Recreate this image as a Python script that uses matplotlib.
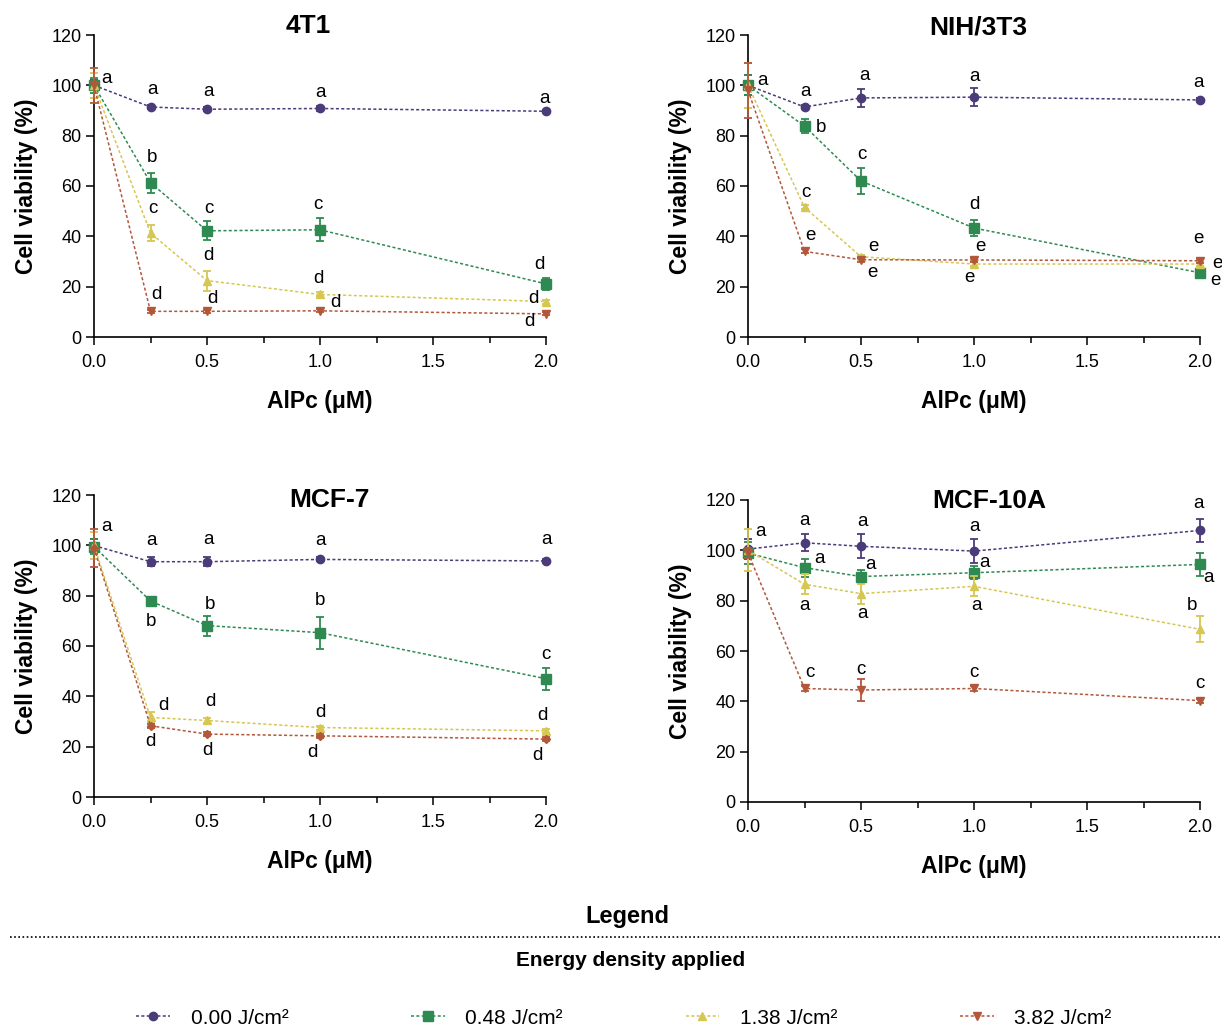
import numpy as np
import matplotlib
matplotlib.use("Agg")
import matplotlib.pyplot as plt
from matplotlib.lines import Line2D
from matplotlib.ticker import MultipleLocator

plt.rcParams['font.family'] = ['Liberation Sans', 'DejaVu Sans']

# AlPc concentration (uM)
conc = [0.0, 0.25, 0.5, 1.0, 2.0]
doses = ["0.00 J/cm²", "0.48 J/cm²", "1.38 J/cm²", "3.82 J/cm²"]

# 4T1
t1_means = [[100, 91.4, 90.5, 90.8, 89.7],
            [100, 61.3, 42.2, 42.6, 21.1],
            [100, 41.3, 22.4, 16.9, 14.1],
            [100, 10.2, 10.2, 10.4, 9.2]]
t1_errs = [[2, 0.8, 0.8, 0.8, 0.5],
           [3, 4.0, 3.8, 4.6, 2.5],
           [5, 3.2, 4.0, 0.8, 0.8],
           [7, 0.6, 0.6, 0.6, 0.6]]
t1_letters = [["a", "a", "a", "a", "a"],
              ["", "b", "c", "c", "d"],
              ["", "c", "d", "d", "d"],
              ["", "d", "d", "d", "d"]]

# NIH/3T3
nih_means = [[100, 91.4, 95.0, 95.3, 94.2],
             [100, 83.8, 62.0, 43.3, 25.5],
             [100, 51.5, 31.9, 29.0, 29.0],
             [98, 34.0, 30.7, 30.6, 30.3]]
nih_errs = [[4, 0.8, 3.5, 3.6, 0.8],
            [4, 2.9, 5.3, 3.3, 0.8],
            [9, 0.8, 0.8, 0.8, 0.8],
            [11, 0.8, 0.8, 0.8, 0.8]]
nih_letters = [["a", "a", "a", "a", "a"],
               ["", "b", "c", "d", "e"],
               ["", "c", "e", "e", "e"],
               ["", "e", "e", "e", "e"]]

# MCF-7
mcf7_means = [[99.9, 93.5, 93.5, 94.4, 93.8],
              [99.5, 77.9, 68.1, 65.3, 47.0],
              [100, 31.6, 30.4, 27.6, 26.3],
              [99, 28.3, 25.0, 24.3, 23.0]]
mcf7_errs = [[2.5, 1.7, 1.8, 0.8, 0.8],
             [3, 1.5, 4.0, 6.3, 4.3],
             [5.4, 2.0, 0.8, 0.8, 0.8],
             [7.5, 0.8, 0.8, 0.8, 0.8]]
mcf7_letters = [["a", "a", "a", "a", "a"],
                ["", "b", "b", "b", "c"],
                ["", "d", "d", "d", "d"],
                ["", "d", "d", "d", "d"]]

# MCF-10A
mcf10_means = [[100.5, 103.0, 101.6, 99.7, 107.9],
               [98.9, 93.1, 89.6, 91.1, 94.4],
               [100, 86.5, 82.8, 85.7, 68.6],
               [99, 45.1, 44.5, 45.1, 40.3]]
mcf10_errs = [[4, 3.4, 4.7, 4.8, 4.4],
              [4.5, 3.6, 2.6, 2.6, 4.5],
              [8.3, 4.0, 4.0, 4.0, 5.2],
              [2, 0.8, 4.4, 0.8, 0.8]]
mcf10_letters = [["a", "a", "a", "a", "a"],
                 ["", "a", "a", "a", "a"],
                 ["", "a", "a", "a", "b"],
                 ["", "c", "c", "c", "c"]]

# letter placement, pixel offsets from the point
t1_off = [[(13, 7), (2, 17), (2, 18), (0, 16), (-2, 13)],
          [None, (1, 25), (2, 22), (-2, 25), (-7, 19)],
          [None, (2, 25), (1, 25), (-2, 16), (-13, 3)],
          [None, (6, 17), (5, 13), (15, 8), (-17, -8)]]
nih_off = [[(14, 5), (1, 15), (3, 22), (1, 21), (-2, 17)],
           [None, (16, -1), (1, 26), (0, 24), (15, -8)],
           [None, (1, 15), (12, 10), (-5, -13), (17, 1)],
           [None, (6, 16), (11, -13), (6, 13), (-2, 22)]]
mcf7_off = [[(12, 19), (1, 21), (1, 22), (0, 19), (0, 21)],
            [None, (0, -21), (3, 21), (0, 32), (0, 24)],
            [None, (13, 12), (3, 19), (0, 15), (-4, 15)],
            [None, (0, -16), (0, -16), (-8, -17), (-9, -16)]]
mcf10_off = [[(12, 18), (0, 22), (1, 25), (1, 25), (-2, 27)],
             [None, (15, 9), (10, 12), (11, 10), (8, -13)],
             [None, (0, -21), (1, -20), (3, -19), (-8, 24)],
             [None, (5, 16), (0, 21), (0, 16), (0, 17)]]

colors = ["#4b3b7a", "#2f8a52", "#d6c652", "#b3573a"]
markers = ["o", "s", "^", "v"]
msizes = [6, 7.5, 6, 6]

panels = [
    ("4T1", t1_means, t1_errs, t1_letters, t1_off,
     [94, 337], (0.473, 1.03), "v"),
    ("NIH/3T3", nih_means, nih_errs, nih_letters, nih_off,
     [748, 337], (0.509, 1.026), "v"),
    ("MCF-7", mcf7_means, mcf7_errs, mcf7_letters, mcf7_off,
     [94, 797], (0.52, 0.983), "D"),
    ("MCF-10A", mcf10_means, mcf10_errs, mcf10_letters, mcf10_off,
     [748, 802], (0.533, 0.997), "v"),
]

W, H = 1222, 1032
AW, AH = 452, 302
fig = plt.figure(figsize=(W / 100, H / 100), dpi=100)

handles = None
for title, means, errs, letters, offs, (x0, y0), tpos, red_marker in panels:
    ax = fig.add_axes([x0 / W, 1 - y0 / H, AW / W, AH / H])
    lines = []
    for i in range(4):
        mk = markers[i] if i < 3 else red_marker
        ms = msizes[i] if mk != "D" else 4.5
        cont = ax.errorbar(conc, means[i], yerr=errs[i], color=colors[i],
                           marker=mk, ms=ms, ls=(0, (2, 1.5)), lw=1.1,
                           capsize=3, elinewidth=1.3, capthick=1.3,
                           clip_on=False, zorder=3 + i)
        lines.append(cont[0])
        for j in range(5):
            if letters[i][j]:
                dx, dy = offs[i][j]
                ax.annotate(letters[i][j], (conc[j], means[i][j]),
                            xytext=(dx, dy), textcoords="offset pixels",
                            ha="center", va="center", fontsize=13.5,
                            annotation_clip=False, zorder=10)
    if handles is None:
        handles = lines

    ax.set_xlim(0, 2.0)
    ax.set_ylim(0, 120)
    ax.set_xticks([0, 0.5, 1.0, 1.5, 2.0])
    ax.set_xticklabels(["0.0", "0.5", "1.0", "1.5", "2.0"])
    ax.xaxis.set_minor_locator(MultipleLocator(0.25))
    ax.set_yticks(range(0, 121, 20))
    ax.tick_params(axis="both", which="major", labelsize=13, length=6,
                   width=1.1, direction="out")
    ax.tick_params(axis="x", which="major", pad=6)
    ax.tick_params(axis="y", which="major", pad=3)
    ax.tick_params(axis="x", which="minor", length=4, width=1.1)
    for s in ["top", "right"]:
        ax.spines[s].set_visible(False)
    for s in ["left", "bottom"]:
        ax.spines[s].set_linewidth(1.2)

    ax.set_xlabel("AlPc (μM)", fontsize=16.5, fontweight="bold")
    ax.xaxis.set_label_coords(0.5, -0.175)
    ax.set_ylabel("Cell viability (%)", fontsize=16.5, fontweight="bold",
                  va="center")
    ax.yaxis.set_label_coords(-0.15, 0.5)
    ax.text(tpos[0], tpos[1], title, transform=ax.transAxes, ha="center",
            va="center", fontsize=19, fontweight="bold")

# legend block
fig.text(627 / W, 1 - 917 / H, "Legend", ha="center", va="center",
         fontsize=17, fontweight="bold")
fig.add_artist(Line2D([10 / W, 1.0], [1 - 937 / H, 1 - 937 / H],
                      transform=fig.transFigure, color="black", lw=1.2,
                      ls=(0, (1, 1.5))))
fig.text(631 / W, 1 - 960 / H, "Energy density applied", ha="center",
         va="center", fontsize=15, fontweight="bold")
fig.legend(handles, doses, loc="center", bbox_to_anchor=(624 / W, 1 - 1018 / H),
           ncol=4, frameon=False, fontsize=15, handlelength=1.6,
           columnspacing=5.9, handletextpad=1.0)

fig.savefig("out.png", dpi=100)
